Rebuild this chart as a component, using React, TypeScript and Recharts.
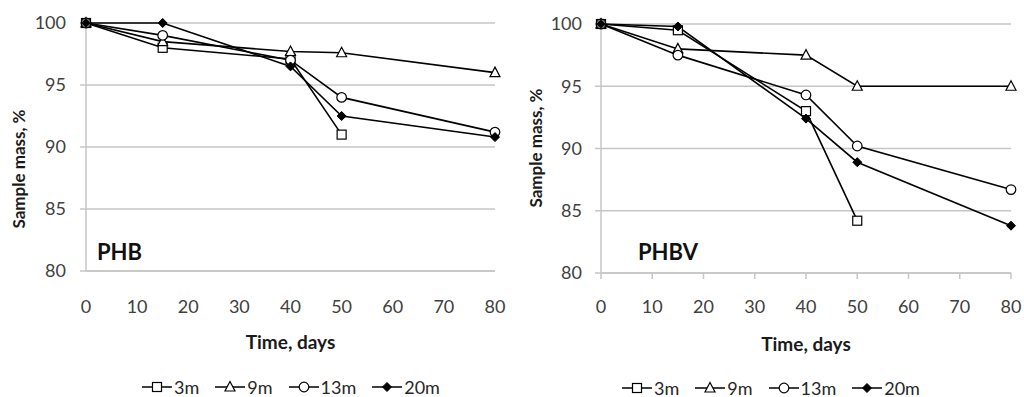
import React from "react"
import {
  CartesianGrid,
  Label,
  Legend,
  Line,
  LineChart,
  XAxis,
  YAxis,
} from "recharts"

// sampling days
const DAYS = [0, 15, 40, 50, 80]
const X_TICKS = [0, 10, 20, 30, 40, 50, 60, 70, 80]
const Y_TICKS = [80, 85, 90, 95, 100]

// PHB, sample mass %
const PHB_3M = [100, 98, 97.1, 91, null]
const PHB_9M = [100, 98.5, 97.7, 97.6, 96]
const PHB_13M = [100, 99, 97, 94, 91.2]
const PHB_20M = [100, 100, 96.5, 92.5, 90.8]

// PHBV, sample mass %
const PHBV_3M = [100, 99.5, 93, 84.2, null]
const PHBV_9M = [100, 98, 97.5, 95, 95]
const PHBV_13M = [100, 97.5, 94.3, 90.2, 86.7]
const PHBV_20M = [100, 99.8, 92.4, 88.9, 83.8]

const SERIES = [
  { key: "m3", name: "3m", shape: "square" },
  { key: "m9", name: "9m", shape: "triangle" },
  { key: "m13", name: "13m", shape: "circle" },
  { key: "m20", name: "20m", shape: "diamond" },
]

const FONT = "Lato, 'Open Sans', sans-serif"

function buildRows(cols: (number | null)[][]) {
  return DAYS.map((day, i) => ({
    day,
    m3: cols[0][i],
    m9: cols[1][i],
    m13: cols[2][i],
    m20: cols[3][i],
  }))
}

const phbRows = buildRows([PHB_3M, PHB_9M, PHB_13M, PHB_20M])
const phbvRows = buildRows([PHBV_3M, PHBV_9M, PHBV_13M, PHBV_20M])

function Marker({ cx, cy, shape }: { cx?: number; cy?: number; shape: string }) {
  if (cx == null || cy == null || isNaN(cx) || isNaN(cy)) return <g />
  if (shape === "square")
    return <rect x={cx - 4.5} y={cy - 4.5} width={9} height={9} fill="#fff" stroke="#000" strokeWidth={1.2} />
  if (shape === "triangle")
    return (
      <polygon
        points={`${cx},${cy - 5.5} ${cx + 5},${cy + 4} ${cx - 5},${cy + 4}`}
        fill="#fff"
        stroke="#000"
        strokeWidth={1.2}
      />
    )
  if (shape === "circle")
    return <circle cx={cx} cy={cy} r={4.8} fill="#fff" stroke="#000" strokeWidth={1.2} />
  return (
    <polygon
      points={`${cx},${cy - 4.5} ${cx + 4.5},${cy} ${cx},${cy + 4.5} ${cx - 4.5},${cy}`}
      fill="#000"
      stroke="#000"
    />
  )
}

function LegendIcon({ shape }: { shape: string }) {
  return (
    <svg width={30} height={14} style={{ display: "block" }}>
      <line x1={0} y1={7} x2={30} y2={7} stroke="#000" strokeWidth={1.5} />
      <Marker cx={15} cy={7} shape={shape} />
    </svg>
  )
}

function renderLegend(startX: number) {
  return () => (
    <div
      style={{
        display: "flex",
        alignItems: "center",
        height: 18,
        paddingLeft: startX,
        fontFamily: FONT,
        fontSize: 18,
        lineHeight: "18px",
        color: "#262626",
      }}
    >
      {SERIES.map((s) => (
        <div key={s.key} style={{ display: "flex", alignItems: "center", marginRight: 16 }}>
          <LegendIcon shape={s.shape} />
          <span style={{ marginLeft: 2 }}>{s.name}</span>
        </div>
      ))}
    </div>
  )
}

interface MassChartProps {
  rows: ReturnType<typeof buildRows>
  title: string
  top: number
  right: number
  yWidth: number
  xHeight: number
  yTickMargin: number
  xTickMargin: number
  showXTicks: boolean
  yLabelX: number
  yLabelY: number
  titleX: number
  legendX: number
  legendBottom: number
}

function MassChart(p: MassChartProps) {
  const tick = { fontSize: 18, fill: "#404040", fontFamily: FONT }
  return (
    <LineChart
      width={512}
      height={397}
      data={p.rows}
      margin={{ top: p.top, right: p.right, left: 0, bottom: 0 }}
    >
      <CartesianGrid vertical={false} stroke="#c6c6c6" strokeWidth={1.5} />
      <XAxis
        dataKey="day"
        type="number"
        domain={[0, 80]}
        ticks={X_TICKS}
        height={p.xHeight}
        tickSize={6}
        tickMargin={p.xTickMargin}
        tickLine={p.showXTicks ? { stroke: "#c6c6c6", strokeWidth: 1.5 } : false}
        axisLine={{ stroke: "#c6c6c6", strokeWidth: 1.5 }}
        tick={tick}
      >
        <Label
          value="Time, days"
          position="insideTop"
          offset={65}
          style={{ fontSize: 19, fontWeight: 700, fill: "#1a1a1a", fontFamily: FONT }}
        />
      </XAxis>
      <YAxis
        type="number"
        domain={[80, 100]}
        ticks={Y_TICKS}
        width={p.yWidth}
        tickSize={6}
        tickMargin={p.yTickMargin}
        tickLine={{ stroke: "#c6c6c6", strokeWidth: 1.5 }}
        axisLine={{ stroke: "#c6c6c6", strokeWidth: 1.5 }}
        tick={tick}
      />
      {SERIES.map((s) => (
        <Line
          key={s.key}
          dataKey={s.key}
          name={s.name}
          stroke="#000"
          strokeWidth={1.6}
          isAnimationActive={false}
          connectNulls={false}
          dot={(d: any) => <Marker key={`${s.key}-${d.index}`} cx={d.cx} cy={d.cy} shape={s.shape} />}
          activeDot={false}
        />
      ))}
      <Legend
        verticalAlign="bottom"
        content={renderLegend(p.legendX)}
        wrapperStyle={{ left: 0, width: 512, bottom: p.legendBottom }}
      />
      <text
        x={p.yLabelX}
        y={p.yLabelY}
        transform={`rotate(-90 ${p.yLabelX} ${p.yLabelY})`}
        textAnchor="middle"
        dominantBaseline="central"
        fontFamily={FONT}
        fontSize={17}
        fontWeight={700}
        fill="#1a1a1a"
      >
        Sample mass, %
      </text>
      <text
        x={p.titleX}
        y={251}
        dominantBaseline="central"
        fontFamily={FONT}
        fontSize={22}
        fontWeight={700}
        fill="#111"
      >
        {p.title}
      </text>
    </LineChart>
  )
}

export default function App() {
  return (
    <div
      style={{
        position: "absolute",
        left: 0,
        top: 0,
        width: 1024,
        height: 397,
        display: "flex",
        background: "#fff",
      }}
    >
      <MassChart
        rows={phbRows}
        title="PHB"
        top={23}
        right={17}
        yWidth={86}
        xHeight={108}
        yTickMargin={14}
        xTickMargin={23}
        showXTicks={false}
        yLabelX={18}
        yLabelY={169}
        titleX={97}
        legendX={142}
        legendBottom={1}
      />
      <MassChart
        rows={phbvRows}
        title="PHBV"
        top={24}
        right={13}
        yWidth={89}
        xHeight={106}
        yTickMargin={13}
        xTickMargin={21}
        showXTicks={true}
        yLabelX={23}
        yLabelY={148}
        titleX={126}
        legendX={110}
        legendBottom={0}
      />
    </div>
  )
}
